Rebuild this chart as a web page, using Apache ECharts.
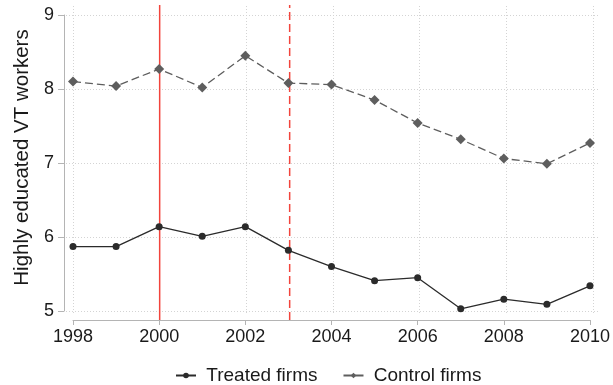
<!DOCTYPE html>
<html>
<head>
<meta charset="utf-8">
<script src="https://cdn.jsdelivr.net/npm/echarts@6/dist/echarts.min.js"></script>
<style>
  html, body { margin: 0; padding: 0; background: #fff; }
  #chart { width: 613px; height: 385px; }
</style>
</head>
<body>
<div id="chart"></div>
<script>
// Years on the horizontal axis
const years = [1998, 1999, 2000, 2001, 2002, 2003, 2004, 2005, 2006, 2007, 2008, 2009, 2010];
// Average number of highly educated VT workers per firm
const treated = [5.87, 5.87, 6.14, 6.01, 6.14, 5.82, 5.60, 5.41, 5.45, 5.03, 5.16, 5.09, 5.34];
const control = [8.10, 8.04, 8.27, 8.02, 8.45, 8.08, 8.06, 7.85, 7.54, 7.32, 7.06, 6.99, 7.27];
// Tick positions
const xTicks = [1998, 2000, 2002, 2004, 2006, 2008, 2010];
const yTicks = [5, 6, 7, 8, 9];
// Reference years (policy events)
const eventSolid = 2000;
const eventDashed = 2003;

const FONT = 'Liberation Sans, Arial, sans-serif';
const axisGrey = '#b4b4b4';
const gridGrey = '#d4d4d4';
const red = '#f2443c';

const chart = echarts.init(document.getElementById('chart'), null, { renderer: 'canvas' });

// Extra margins of the background grid beyond the data range, in axis units
const xPad = 7 / 43.33;
const yTopPad = 10 / 74, yBotPad = 2 / 74;

// Vertical event line spanning the full height of the event grid
const eventLine = year => [[year, 0], [year, 1]];

const option = {
  animation: false,
  backgroundColor: '#fff',
  textStyle: { fontFamily: FONT },
  grid: [
    { left: 73, right: 20, top: 15, bottom: 74 },   // data
    { left: 66, right: 13, top: 5, bottom: 72 },    // dotted grid
    { left: 73, right: 20, top: 5, bottom: 65 }     // event lines
  ],
  legend: {
    bottom: 0,
    left: 175,
    padding: 0,
    itemWidth: 20,
    itemHeight: 7,
    itemGap: 25,
    lineStyle: { type: 'solid' },
    textStyle: { fontSize: 19, color: '#1a1a1a', fontFamily: FONT },
    formatter: name => ' ' + name,
    data: ['Treated firms', 'Control firms']
  },
  xAxis: [
    {
      gridIndex: 0, type: 'value', min: 1998, max: 2010, interval: 2,
      offset: 9,
      axisLine: { show: true, lineStyle: { color: axisGrey, width: 1 } },
      axisTick: { show: true, length: 5, lineStyle: { color: axisGrey } },
      axisLabel: { fontSize: 18, color: '#1a1a1a', margin: 8, fontFamily: FONT,
                   formatter: v => xTicks.includes(v) ? String(v) : '' },
      splitLine: { show: false }
    },
    {
      gridIndex: 1, type: 'value', min: xTicks[0] - xPad, max: xTicks[xTicks.length - 1] + xPad,
      show: false
    },
    {
      gridIndex: 2, type: 'value', min: 1998, max: 2010, show: false
    }
  ],
  yAxis: [
    {
      gridIndex: 0, type: 'value', min: 5, max: 9, interval: 1,
      offset: 9,
      name: 'Highly educated VT workers',
      nameLocation: 'middle',
      nameGap: 31,
      nameTextStyle: { fontSize: 20.5, color: '#1a1a1a', fontFamily: FONT, padding: [0, 0, 0, 11] },
      axisLine: { show: true, lineStyle: { color: axisGrey, width: 1 } },
      axisTick: { show: true, length: 6, lineStyle: { color: axisGrey } },
      axisLabel: { fontSize: 18, color: '#1a1a1a', margin: 10, fontFamily: FONT },
      splitLine: { show: false }
    },
    {
      gridIndex: 1, type: 'value', min: yTicks[0] - yBotPad, max: yTicks[yTicks.length - 1] + yTopPad,
      show: false
    },
    {
      gridIndex: 2, type: 'value', min: 0, max: 1, show: false
    }
  ],
  series: [
    {
      name: 'gridlines', type: 'line', xAxisIndex: 1, yAxisIndex: 1, data: [],
      silent: true, z: 0,
      itemStyle: { color: gridGrey },
      markLine: {
        silent: true, symbol: 'none', label: { show: false }, z: 0,
        lineStyle: { color: gridGrey, type: [1, 2], width: 1, opacity: 1 },
        data: xTicks.map(v => ({ xAxis: v })).concat(yTicks.map(v => ({ yAxis: v })))
      }
    },
    {
      name: 'event-solid', type: 'line', xAxisIndex: 2, yAxisIndex: 2,
      data: eventLine(eventSolid),
      silent: true, symbol: 'none', z: 3,
      lineStyle: { color: red, type: 'solid', width: 1.5 }
    },
    {
      name: 'event-dashed', type: 'line', xAxisIndex: 2, yAxisIndex: 2,
      data: eventLine(eventDashed),
      silent: true, symbol: 'none', z: 3,
      lineStyle: { color: red, type: [8, 4], width: 1.5 }
    },
    {
      name: 'Treated firms', type: 'line', xAxisIndex: 0, yAxisIndex: 0,
      data: years.map((y, i) => [y, treated[i]]),
      symbol: 'circle', symbolSize: 7,
      itemStyle: { color: '#2b2b2b' },
      lineStyle: { color: '#2b2b2b', width: 1.3 },
      z: 5
    },
    {
      name: 'Control firms', type: 'line', xAxisIndex: 0, yAxisIndex: 0,
      data: years.map((y, i) => [y, control[i]]),
      symbol: 'diamond', symbolSize: 10,
      itemStyle: { color: '#5e5e5e' },
      lineStyle: { color: '#5e5e5e', width: 1.3, type: [8, 4] },
      z: 5
    }
  ]
};

chart.setOption(option);
</script>
</body>
</html>
